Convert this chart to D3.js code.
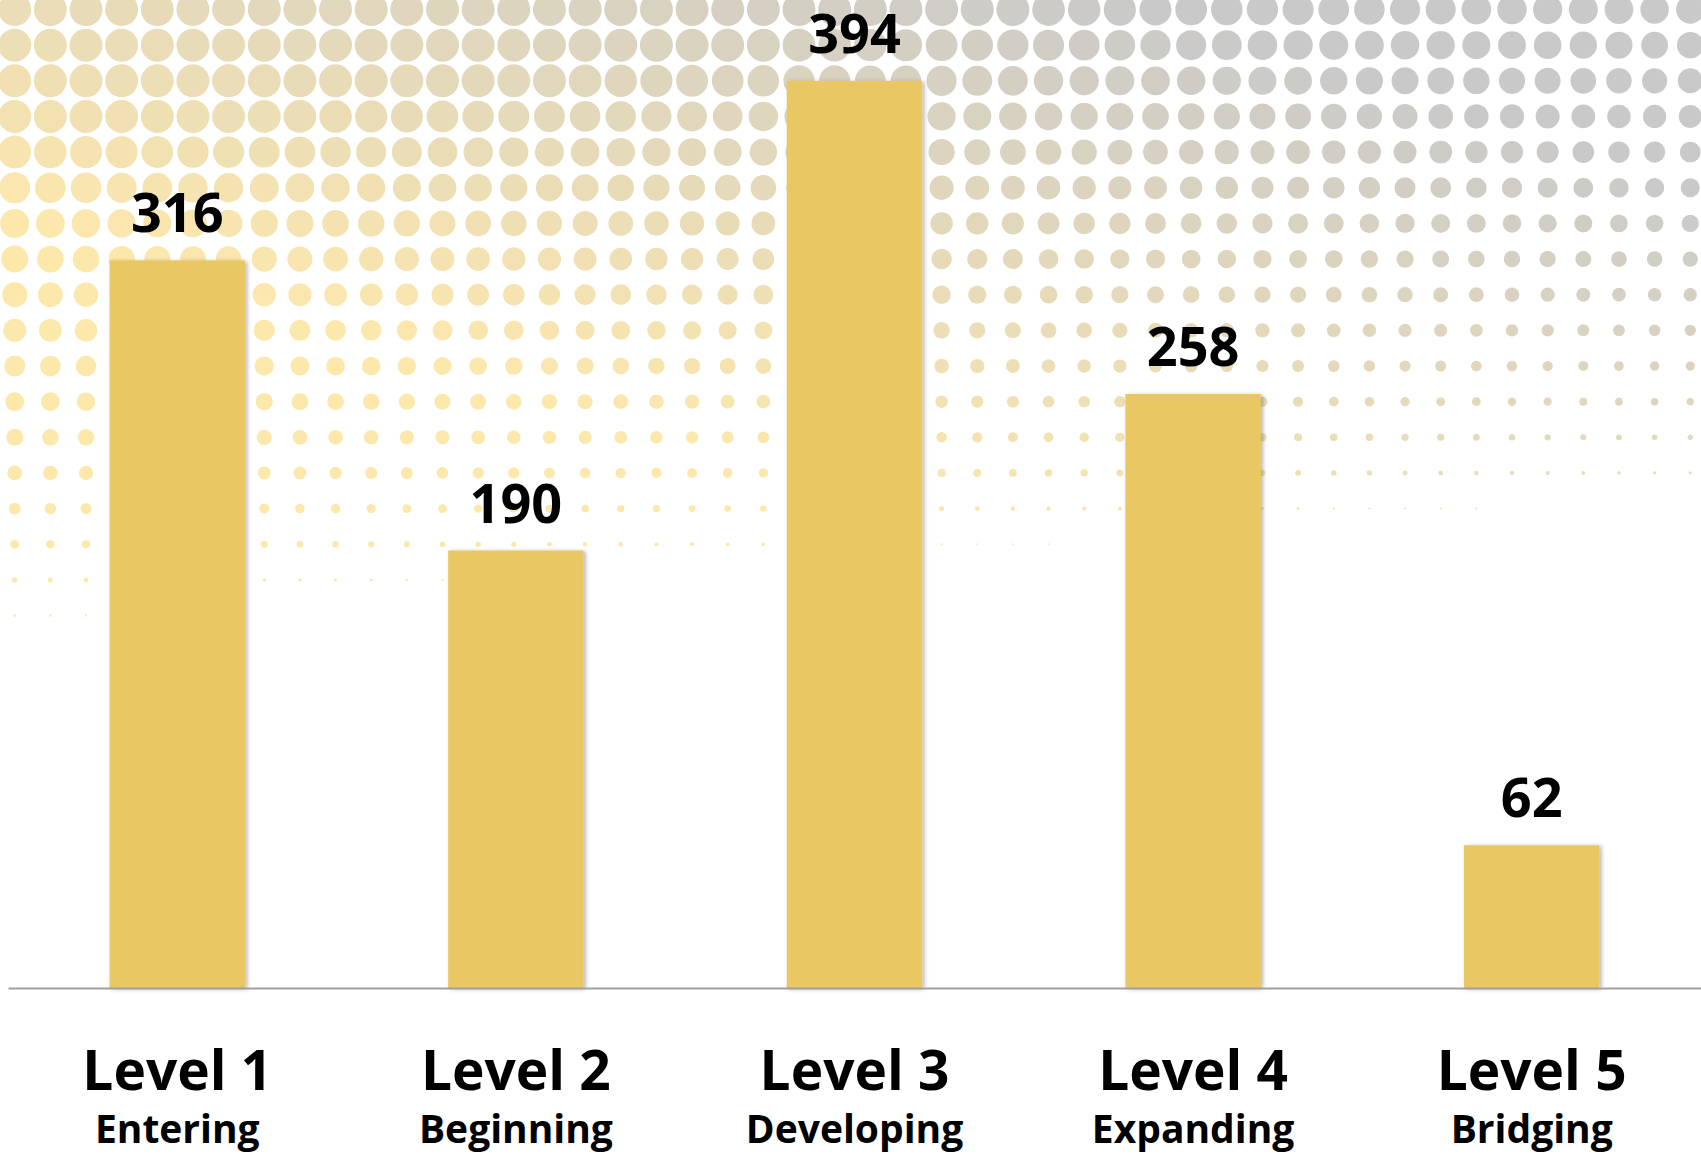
<!DOCTYPE html>
<html>
<head>
<meta charset="utf-8">
<script src="https://cdn.jsdelivr.net/npm/d3@7"></script>
<style>
  body { margin: 0; background: #fff; }
  svg { display: block; font-family: "Open Sans", "Noto Sans", sans-serif; }
</style>
</head>
<body>
<svg id="chart" width="1701" height="1154"></svg>
<script>
// chart data
var levels = ["Level 1", "Level 2", "Level 3", "Level 4", "Level 5"];
var stages = ["Entering", "Beginning", "Developing", "Expanding", "Bridging"];
var counts = [316, 190, 394, 258, 62];

// halftone background: dot diameter per row at the left edge
var rowDiameters = [40, 38.3, 36.7, 34.7, 32.7, 30.8, 29, 27, 25, 23, 21, 19, 17, 14.7, 11.7, 8.7, 5.3, 2.7];
var dotCols = 48;

var width = 1701;
var height = 1154;
var baseY = 988;
var barColor = "#e9c762";

var svg = d3.select("#chart");

var defs = svg.append("defs");
defs.append("filter")
  .attr("id", "barShadow")
  .attr("x", "-10%").attr("y", "-10%")
  .attr("width", "120%").attr("height", "120%")
  .append("feDropShadow")
  .attr("dx", 2).attr("dy", 1)
  .attr("stdDeviation", 2)
  .attr("flood-color", "#000")
  .attr("flood-opacity", 0.3);

// dots behind everything
var dotColor = d3.interpolateRgb("#fde8ac", "#c9c9c9");
var dots = [];
rowDiameters.forEach((rd, j) => {
  for (let i = 0; i < dotCols; i++) {
    let d = Math.min(33, rd - 0.25 * i);
    if (d < 1.3) continue;
    d = Math.max(d, 2);
    let cx = 14.7 + 35.65 * i;
    let cy = 9.5 + 35.65 * j;
    let t = 0.00055 * cx - 0.0017 * (cy - 220);
    t = Math.max(0, Math.min(1, t));
    dots.push({ cx: cx, cy: cy, r: d / 2, t: t });
  }
});

svg.append("g")
  .attr("class", "dots")
  .selectAll("circle")
  .data(dots)
  .join("circle")
  .attr("cx", (d) => d.cx)
  .attr("cy", (d) => d.cy)
  .attr("r", (d) => d.r)
  .attr("fill", (d) => dotColor(d.t));

var x = d3.scaleBand()
  .domain(levels)
  .range([8, width])
  .paddingInner(0.6)
  .paddingOuter(0.3);

var y = d3.scaleLinear()
  .domain([0, 400])
  .range([baseY, 67]);

var data = levels.map((l, i) => ({ level: l, stage: stages[i], value: counts[i] }));

svg.append("g")
  .attr("class", "bars")
  .selectAll("rect")
  .data(data)
  .join("rect")
  .attr("x", (d) => x(d.level))
  .attr("y", (d) => y(d.value))
  .attr("width", x.bandwidth())
  .attr("height", (d) => baseY - y(d.value))
  .attr("fill", barColor)
  .attr("filter", "url(#barShadow)");

// baseline
var axis = svg.append("g")
  .attr("class", "x-axis")
  .attr("transform", `translate(0, ${baseY})`)
  .call(d3.axisBottom(x).tickSize(0).tickFormat(""));
axis.select(".domain").attr("stroke", "#a0a0a0").attr("stroke-width", 2);

// value labels
svg.append("g")
  .attr("class", "values")
  .selectAll("text")
  .data(data)
  .join("text")
  .attr("x", (d) => x(d.level) + x.bandwidth() / 2)
  .attr("y", (d) => y(d.value) - 28)
  .attr("text-anchor", "middle")
  .attr("font-size", 54)
  .attr("font-weight", 700)
  .attr("fill", "#000")
  .text((d) => d.value);

// category labels
var cats = svg.append("g").attr("class", "cats");
cats.selectAll("text.level")
  .data(data)
  .join("text")
  .attr("class", "level")
  .attr("x", (d) => x(d.level) + x.bandwidth() / 2)
  .attr("y", 1090)
  .attr("text-anchor", "middle")
  .attr("font-size", 55)
  .attr("font-weight", 700)
  .text((d) => d.level);

cats.selectAll("text.stage")
  .data(data)
  .join("text")
  .attr("class", "stage")
  .attr("x", (d) => x(d.level) + x.bandwidth() / 2)
  .attr("y", 1143)
  .attr("text-anchor", "middle")
  .attr("font-size", 39)
  .attr("font-weight", 700)
  .text((d) => d.stage);
</script>
</body>
</html>
